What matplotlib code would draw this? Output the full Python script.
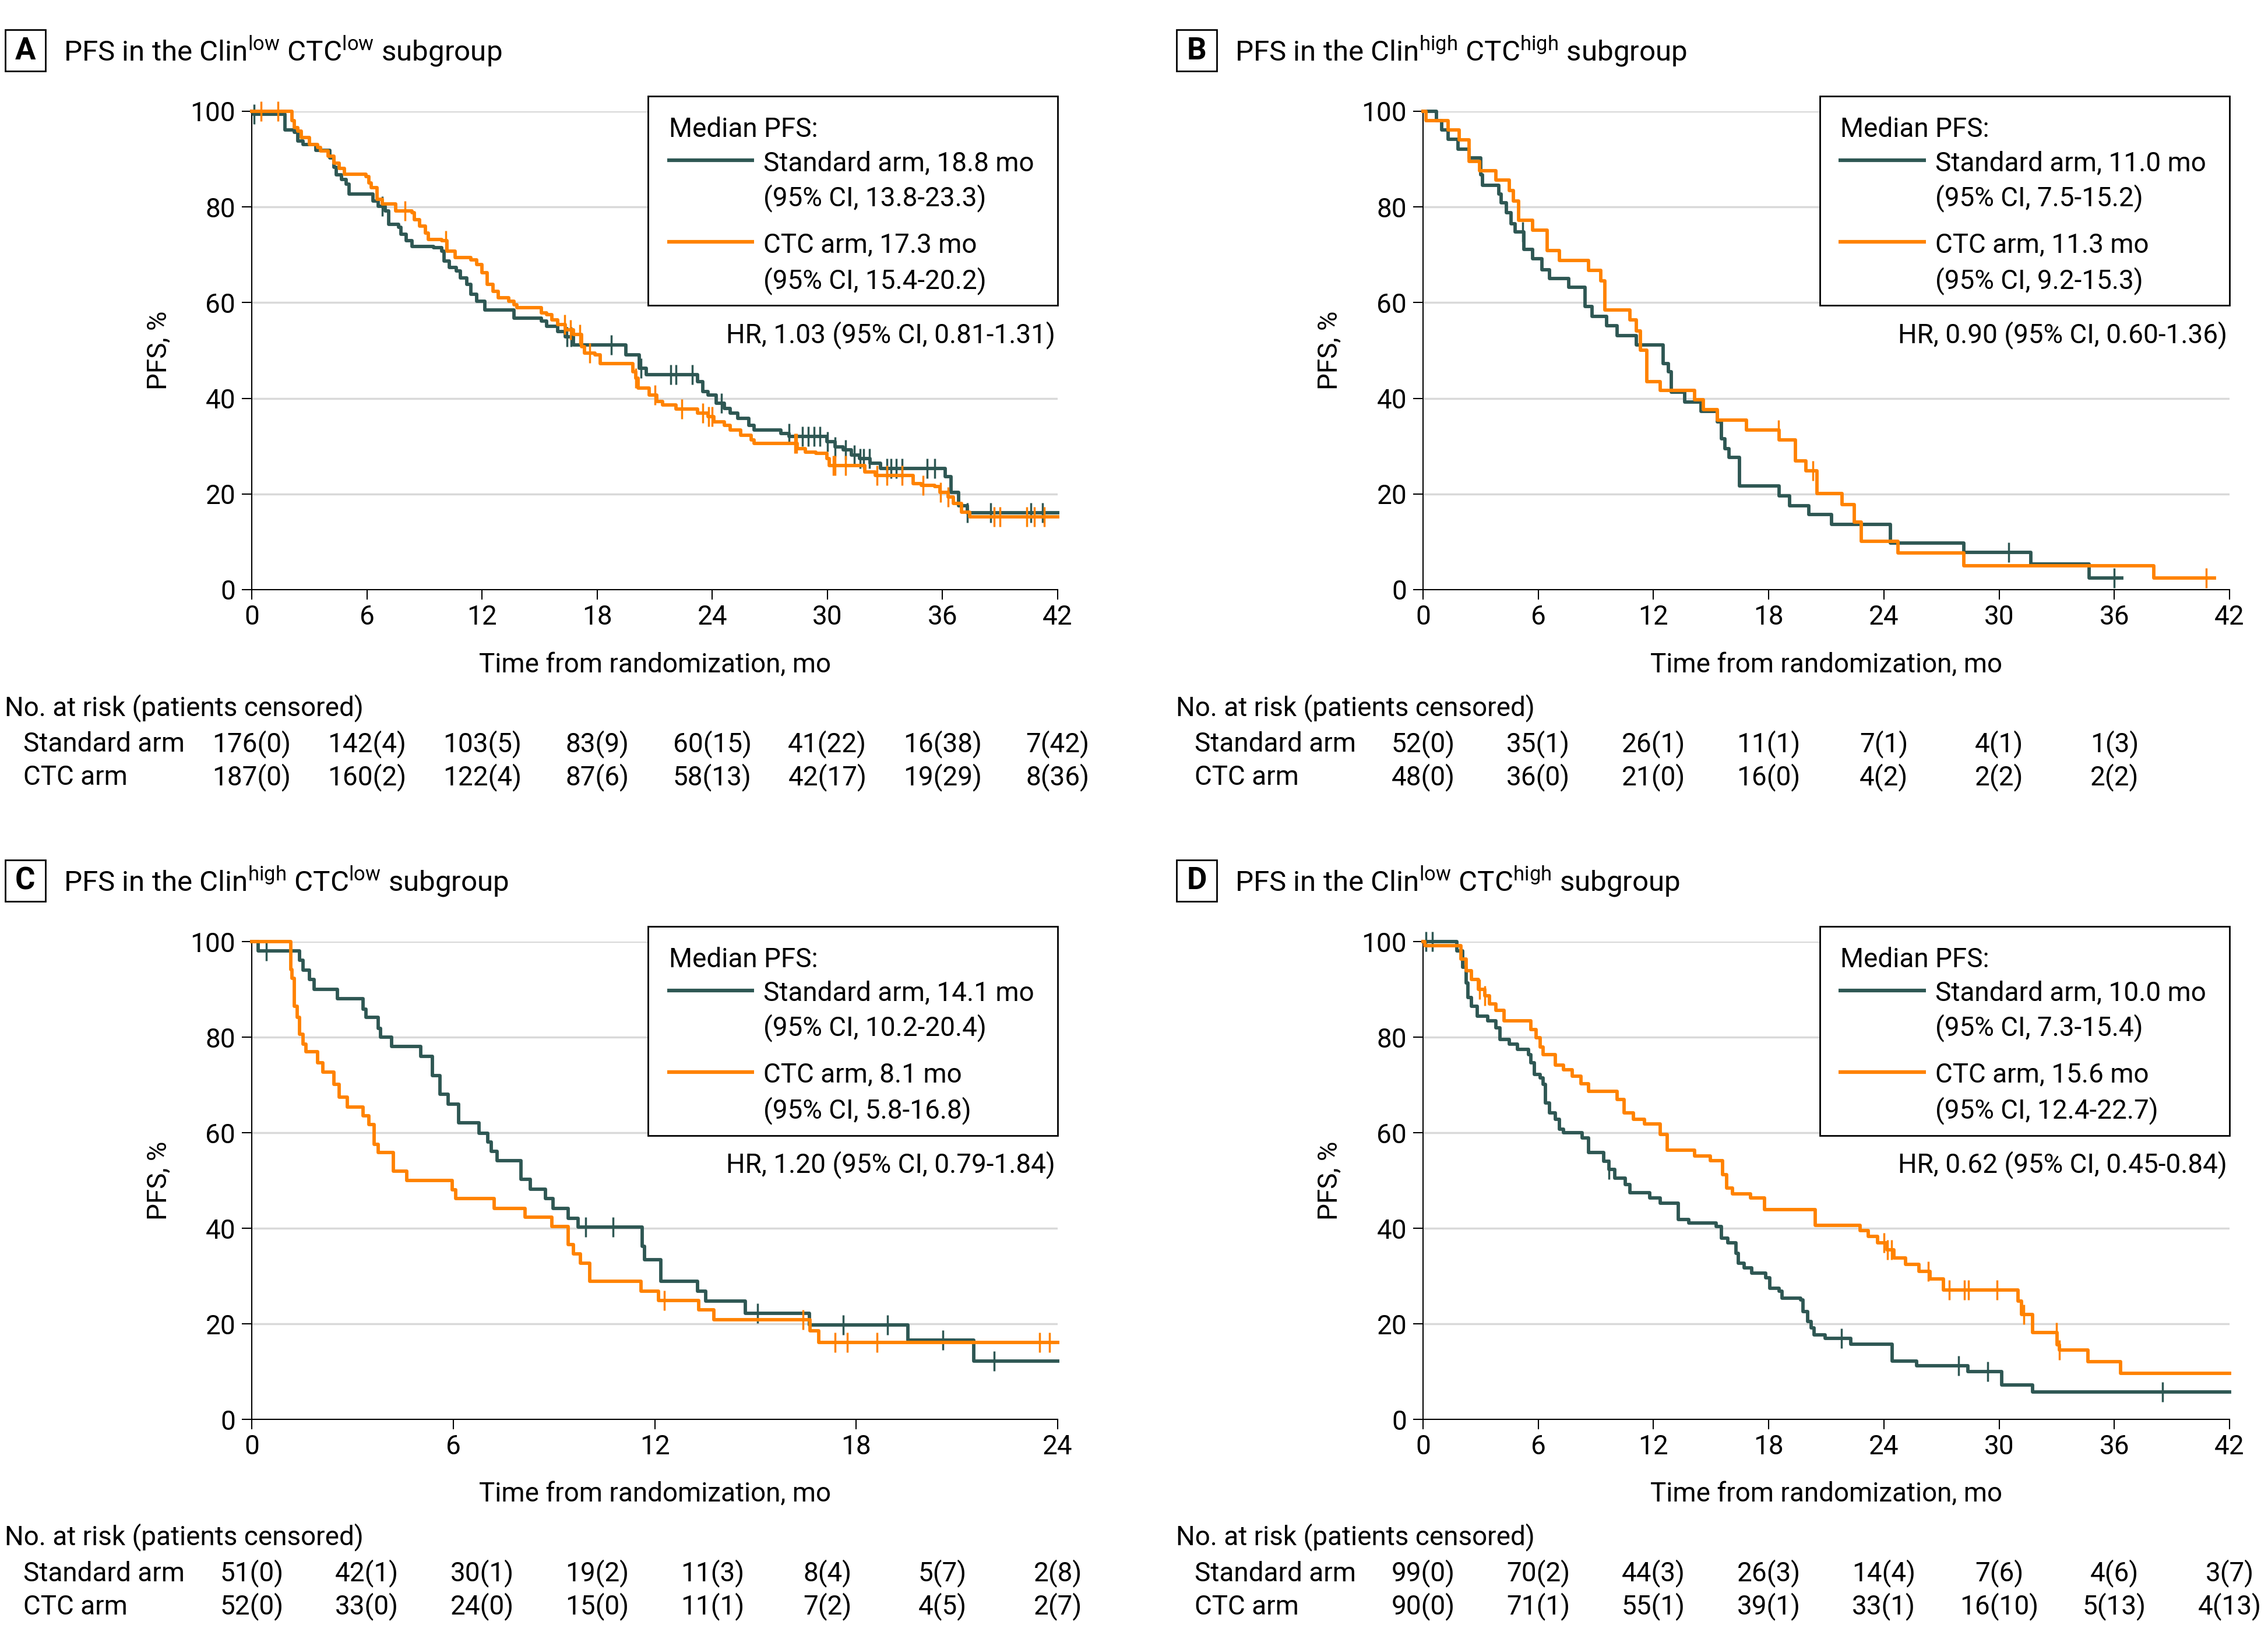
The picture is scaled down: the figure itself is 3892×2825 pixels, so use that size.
import numpy as np
import matplotlib
matplotlib.use('Agg')
import matplotlib.pyplot as plt
from matplotlib.patches import Rectangle
from matplotlib.transforms import blended_transform_factory

plt.rcParams['font.family'] = ['Roboto', 'DejaVu Sans']
plt.rcParams['mathtext.fontset'] = 'custom'
plt.rcParams['mathtext.rm'] = 'Roboto'
plt.rcParams['mathtext.it'] = 'Roboto:italic'
plt.rcParams['mathtext.bf'] = 'Roboto:bold'

DARK = '#2e5753'
ORANGE = '#ff8200'
GRID = '#d9d9d9'
FS = 33

# ---------------- data ----------------
# panel A: Clin low / CTC low
a_std_t = [0, 0.1, 1.74, 2.22, 2.39, 2.67, 3.34, 4.07, 4.27, 4.41, 4.69, 4.92, 5.06, 6.32, 6.60, 6.94, 7.13, 7.64,
           7.78, 8.06, 8.34, 9.47, 9.89, 10.03, 10.31, 10.65, 10.87, 11.21, 11.43, 11.71, 12.14, 13.68, 15.08, 15.37,
           15.93, 16.35, 16.77, 19.5, 20.20, 20.56, 23.23, 23.51, 23.79, 24.21, 24.64, 24.92, 25.34, 25.90, 26.18,
           27.58, 28.01, 29.97, 30.39, 30.81, 31.24, 31.66, 32.22, 32.78, 36.15, 36.43, 36.85, 37.28, 42]
a_std_s = [100, 99.4, 96.1, 95.6, 93.8, 93.1, 91.9, 90.3, 88.3, 86.7, 85.8, 84.8, 82.7, 81.3, 80.2, 79.2, 76.4, 75.8,
           74.3, 72.9, 71.8, 71.5, 70.8, 68.7, 67.3, 66.6, 65.2, 63.8, 61.7, 60.3, 58.5, 56.8, 56.1, 55.0,
           54.0, 52.9, 51.2, 49.1, 46.3, 44.9, 43.5, 41.4, 40.7, 39.0, 37.9, 36.9, 35.8, 34.4, 33.4,
           32.7, 32.0, 30.9, 29.9, 29.2, 28.1, 27.4, 26.4, 25.3, 23.6, 20.4, 17.6, 16.1, 16.1]
a_std_cens = [0.11, 6.80, 16.43, 16.63, 18.74, 20.28, 21.83, 22.11, 22.95, 24.49, 28.0, 28.7, 29.0, 29.3, 29.6,
              30.0, 30.4, 30.95, 31.4, 31.7, 31.9, 32.2, 33.1, 33.3, 33.6, 33.9, 35.2, 35.6, 37.3, 38.5, 40.6, 41.2]
a_ctc_t = [0, 2.11, 2.22, 2.39, 2.58, 3.01, 3.43, 3.57, 3.99, 4.27, 4.55, 4.83, 5.96, 6.10, 6.24, 6.52, 6.80, 7.50,
           8.34, 8.48, 8.76, 9.05, 9.19, 9.89, 10.17, 10.59, 11.43, 11.71, 11.99, 12.28, 12.56, 12.84, 13.40, 13.68,
           13.82, 15.08, 15.37, 15.65, 15.93, 16.35, 16.77, 17.19, 17.33, 17.89, 18.17, 19.86, 20.0, 20.14, 20.70,
           21.12, 21.40, 22.11, 23.23, 23.79, 24.07, 24.64, 24.92, 25.48, 26.04, 26.18, 28.43, 28.85, 29.41, 29.97,
           30.11, 31.94, 32.50, 34.47, 34.89, 35.59, 35.87, 36.29, 36.57, 36.99, 37.42, 42]
a_ctc_s = [100, 98.0, 96.6, 95.9, 94.5, 93.1, 92.4, 91.7, 90.6, 89.2, 88.1, 86.9, 86.4, 85.0, 84.0, 81.6, 80.6, 79.2,
           78.8, 77.4, 76.0, 74.6, 73.2, 72.9, 70.8, 69.4, 69.0, 68.0, 66.2, 63.8, 62.4, 61.0, 60.3, 59.6,
           58.9, 57.8, 57.5, 56.4, 55.4, 54.3, 53.3, 50.8, 49.4, 49.1, 47.3, 45.6, 44.2, 42.1, 40.7,
           39.3, 38.6, 37.8, 36.9, 36.2, 35.1, 34.4, 33.4, 32.3, 31.3, 30.6, 29.5, 28.8, 28.5, 27.4,
           26.0, 24.6, 23.9, 22.2, 21.8, 21.5, 20.4, 19.4, 18.0, 16.2, 15.2, 15.2]
a_ctc_cens = [0.48, 1.38, 8.0, 10.1, 16.3, 16.6, 17.1, 17.6, 20.0, 21.0, 22.4, 23.5, 23.8, 24.0, 28.3, 28.4, 30.3,
              30.4, 30.95, 32.6, 33.1, 33.9, 35.0, 35.9, 36.3, 38.7, 39.0, 40.4, 40.8, 41.3]

# panel B: Clin high / CTC high
b_std_t = [0, 0.70, 0.98, 1.32, 1.83, 2.39, 3.01, 3.09, 3.93, 4.07, 4.35, 4.58, 4.78, 5.25, 5.70, 6.18, 6.60, 7.58,
           8.43, 8.79, 9.55, 10.11, 11.10, 12.50, 12.78, 12.92, 13.62, 14.47, 15.31, 15.53, 15.73, 15.93, 16.49,
           18.54, 19.10, 20.08, 21.26, 24.35, 28.17, 31.66, 34.69, 36.38]
b_std_s = [100, 98.0, 96.1, 94.2, 92.1, 90.2, 86.7, 84.5, 82.7, 80.9, 78.8, 76.5, 74.8, 71.1, 69.2, 66.9, 65.0, 63.2,
           59.2, 57.1, 55.2, 53.1, 51.2, 47.3, 45.6, 41.3, 39.2, 37.3, 35.1, 31.6, 29.5, 27.6, 21.7,
           19.6, 17.6, 15.7, 13.7, 9.8, 7.8, 5.4, 2.4, 2.4]
b_std_cens = [5.2, 30.5, 36.0]
b_ctc_t = [0, 0.14, 1.32, 1.88, 2.39, 2.95, 3.79, 4.49, 4.69, 4.97, 5.70, 6.46, 7.11, 8.62, 9.27, 9.47, 10.76, 11.10,
           11.32, 11.66, 12.36, 14.13, 14.61, 15.31, 16.85, 18.54, 19.38, 19.94, 20.51, 21.83, 22.47, 22.81, 24.72,
           28.17, 38.06, 41.2]
b_ctc_s = [100, 98.0, 96.1, 94.0, 89.5, 87.6, 85.6, 83.4, 81.3, 77.2, 75.1, 70.9, 68.8, 66.7, 64.6, 58.5, 56.4, 54.1,
           50.1, 43.5, 41.7, 39.7, 37.6, 35.5, 33.4, 31.3, 26.9, 24.8, 20.1, 17.8, 14.1, 10.1, 7.7,
           5.0, 2.4, 2.4]
b_ctc_cens = [18.5, 20.3, 40.8]

# panel C: Clin high / CTC low
c_std_t = [0, 0.19, 1.43, 1.53, 1.72, 1.85, 2.55, 3.32, 3.40, 3.77, 3.84, 4.17, 5.04, 5.38, 5.60, 5.84, 6.16, 6.77,
           7.02, 7.14, 7.30, 8.01, 8.30, 8.75, 8.97, 9.42, 9.71, 11.62, 11.70, 12.18, 13.28, 13.52, 14.69, 16.60,
           19.54, 21.50, 24]
c_std_s = [100, 98.0, 96.1, 94.0, 92.1, 90.0, 88.0, 85.8, 84.1, 81.8, 80.0, 78.0, 76.0, 72.0, 68.1, 66.0, 62.1, 59.9,
           58.0, 56.1, 54.2, 50.2, 48.2, 46.2, 44.2, 42.1, 40.2, 36.2, 33.4, 28.9, 26.8, 24.7, 22.2, 19.8,
           16.6, 12.2, 12.2]
c_std_cens = [0.43, 9.94, 10.76, 15.07, 17.61, 18.93, 20.58, 22.11]
c_ctc_t = [0, 1.16, 1.20, 1.27, 1.36, 1.43, 1.53, 1.61, 1.96, 2.12, 2.44, 2.60, 2.84, 3.32, 3.48, 3.64, 3.76, 4.21,
           4.61, 5.97, 6.08, 7.22, 8.14, 8.94, 9.42, 9.58, 9.78, 10.07, 11.59, 12.12, 13.31, 13.76, 16.62, 16.89, 24]
c_ctc_s = [100, 94.2, 92.3, 86.5, 84.2, 80.6, 78.5, 76.9, 74.6, 72.7, 70.1, 67.4, 65.4, 63.5, 61.7, 57.6, 55.9, 51.9,
           50.0, 48.1, 46.2, 44.2, 42.3, 40.4, 36.6, 34.6, 32.7, 28.9, 26.8, 24.9, 22.9, 20.8, 18.5, 16.1, 16.1]
c_ctc_cens = [12.28, 16.41, 17.37, 17.74, 18.62, 23.47, 23.76]

# panel D: Clin low / CTC high
d_std_t = [0, 1.77, 2.05, 2.25, 2.33, 2.53, 2.81, 3.37, 3.79, 4.02, 4.49, 4.92, 5.48, 5.62, 5.81, 6.10, 6.26, 6.38,
           6.60, 6.88, 7.11, 7.30, 8.29, 8.62, 9.41, 9.69, 9.97, 10.53, 10.76, 11.80, 12.36, 13.29, 13.85, 15.25,
           15.53, 15.87, 16.29, 16.43, 16.71, 17.13, 17.84, 18.06, 18.54, 18.68, 19.66, 19.80, 20.03, 20.22, 20.37,
           20.93, 22.28, 24.44, 25.70, 28.37, 30.14, 31.74, 42]
d_std_s = [100, 98.0, 94.6, 91.4, 88.3, 86.5, 84.4, 83.4, 82.0, 79.5, 78.5, 77.4, 76.4, 74.6, 72.2, 71.5, 70.1, 66.2,
           64.2, 62.8, 60.7, 60.0, 58.9, 55.8, 54.0, 52.3, 50.5, 49.1, 47.4, 46.3, 45.3, 41.8, 41.1, 40.4,
           37.9, 36.9, 34.8, 32.7, 31.7, 30.6, 29.6, 27.5, 26.8, 25.4, 25.0, 22.6, 20.5, 19.1, 17.7,
           17.0, 15.7, 12.2, 11.2, 10.0, 7.2, 5.7, 5.7]
d_std_cens = [0.14, 0.48, 9.69, 21.8, 27.9, 29.4, 38.5]
d_ctc_t = [0, 0.1, 1.97, 2.25, 2.53, 2.89, 3.23, 3.46, 3.79, 4.21, 5.62, 5.90, 6.10, 6.26, 6.88, 7.30, 7.78, 8.23,
           8.62, 10.11, 10.48, 10.96, 11.52, 12.36, 12.72, 14.13, 14.97, 15.59, 15.81, 16.10, 17.05, 17.78, 20.42,
           22.75, 23.17, 23.68, 24.16, 24.52, 25.14, 25.84, 26.40, 27.11, 30.98, 31.18, 31.74, 33.01, 33.15, 34.63,
           36.32, 42]
d_ctc_s = [100, 99.1, 96.3, 93.9, 92.1, 90.0, 88.6, 86.9, 85.6, 83.4, 81.6, 79.9, 77.9, 76.4, 74.1, 73.2, 71.8, 70.2,
           68.7, 66.9, 64.2, 62.8, 61.8, 59.6, 56.3, 55.1, 54.2, 51.2, 48.4, 47.2, 46.3, 43.9, 40.6,
           39.5, 38.3, 36.9, 35.5, 33.8, 32.5, 31.0, 29.4, 27.1, 24.7, 21.9, 18.2, 15.6, 14.5, 12.1,
           9.6, 9.6]
d_ctc_cens = [2.95, 3.23, 24.0, 24.2, 24.4, 26.3, 27.4, 28.2, 28.4, 29.9, 31.3, 33.0, 33.15]

# number at risk (patients censored)
a_risk_std = ['176(0)', '142(4)', '103(5)', '83(9)', '60(15)', '41(22)', '16(38)', '7(42)']
a_risk_ctc = ['187(0)', '160(2)', '122(4)', '87(6)', '58(13)', '42(17)', '19(29)', '8(36)']
b_risk_std = ['52(0)', '35(1)', '26(1)', '11(1)', '7(1)', '4(1)', '1(3)']
b_risk_ctc = ['48(0)', '36(0)', '21(0)', '16(0)', '4(2)', '2(2)', '2(2)']
c_risk_std = ['51(0)', '42(1)', '30(1)', '19(2)', '11(3)', '8(4)', '5(7)', '2(8)']
c_risk_ctc = ['52(0)', '33(0)', '24(0)', '15(0)', '11(1)', '7(2)', '4(5)', '2(7)']
d_risk_std = ['99(0)', '70(2)', '44(3)', '26(3)', '14(4)', '7(6)', '4(6)', '3(7)']
d_risk_ctc = ['90(0)', '71(1)', '55(1)', '39(1)', '33(1)', '16(10)', '5(13)', '4(13)']

letters = ['A', 'B', 'C', 'D']
titles = [r'PFS in the Clin$^{\mathrm{low}}$ CTC$^{\mathrm{low}}$ subgroup',
          r'PFS in the Clin$^{\mathrm{high}}$ CTC$^{\mathrm{high}}$ subgroup',
          r'PFS in the Clin$^{\mathrm{high}}$ CTC$^{\mathrm{low}}$ subgroup',
          r'PFS in the Clin$^{\mathrm{low}}$ CTC$^{\mathrm{high}}$ subgroup']
std_median = ['Standard arm, 18.8 mo', 'Standard arm, 11.0 mo', 'Standard arm, 14.1 mo', 'Standard arm, 10.0 mo']
std_ci = ['(95% CI, 13.8-23.3)', '(95% CI, 7.5-15.2)', '(95% CI, 10.2-20.4)', '(95% CI, 7.3-15.4)']
ctc_median = ['CTC arm, 17.3 mo', 'CTC arm, 11.3 mo', 'CTC arm, 8.1 mo', 'CTC arm, 15.6 mo']
ctc_ci = ['(95% CI, 15.4-20.2)', '(95% CI, 9.2-15.3)', '(95% CI, 5.8-16.8)', '(95% CI, 12.4-22.7)']
hr_text = ['HR, 1.03 (95% CI, 0.81-1.31)', 'HR, 0.90 (95% CI, 0.60-1.36)',
           'HR, 1.20 (95% CI, 0.79-1.84)', 'HR, 0.62 (95% CI, 0.45-0.84)']
x_max = [42, 42, 24, 42]
risk_times = [np.arange(0, 43, 6), np.arange(0, 37, 6), np.linspace(0, 24, 8), np.arange(0, 43, 6)]

curves = [(a_std_t, a_std_s, a_std_cens, a_ctc_t, a_ctc_s, a_ctc_cens),
          (b_std_t, b_std_s, b_std_cens, b_ctc_t, b_ctc_s, b_ctc_cens),
          (c_std_t, c_std_s, c_std_cens, c_ctc_t, c_ctc_s, c_ctc_cens),
          (d_std_t, d_std_s, d_std_cens, d_ctc_t, d_ctc_s, d_ctc_cens)]
risks = [(a_risk_std, a_risk_ctc), (b_risk_std, b_risk_ctc), (c_risk_std, c_risk_ctc), (d_risk_std, d_risk_ctc)]

W, H = 3892, 2825
# axes boxes in pixels: left, top(100%), right, bottom(0%)
boxes = [(432, 191, 1815, 1012), (2442, 191, 3826, 1012),
         (432, 1616, 1815, 2436), (2442, 1616, 3826, 2436)]


def surv_at(t, s, x):
    idx = np.searchsorted(np.array(t), np.array(x), side='right') - 1
    return np.array(s)[idx]


fig = plt.figure(figsize=(W / 100, H / 100), dpi=100)

for k in range(4):
    l, t, r, b = boxes[k]
    ax = fig.add_axes([l / W, 1 - b / H, (r - l) / W, (b - t) / H])
    st, ss, sc, ct, cs, cc = curves[k]

    for y in range(20, 101, 20):
        ax.axhline(y, color=GRID, lw=2.5, zorder=0)

    ax.step(st, ss, where='post', color=DARK, lw=4.2, clip_on=False, zorder=3)
    ax.plot(sc, surv_at(st, ss, sc), ls='none', marker='|', ms=24, mew=2.5, color=DARK, clip_on=False, zorder=3)
    ax.step(ct, cs, where='post', color=ORANGE, lw=4.2, clip_on=False, zorder=3)
    ax.plot(cc, surv_at(ct, cs, cc), ls='none', marker='|', ms=24, mew=2.5, color=ORANGE, clip_on=False, zorder=3)

    ax.set_xlim(0, x_max[k])
    ax.set_ylim(0, 100)
    ax.set_xticks(np.arange(0, x_max[k] + 1, 6))
    ax.set_yticks(np.arange(0, 101, 20))
    for sp in ['top', 'right']:
        ax.spines[sp].set_visible(False)
    for sp in ['left', 'bottom']:
        ax.spines[sp].set_linewidth(1.5)
    ax.tick_params(length=12, width=1.5, labelsize=FS, direction='out')
    ax.tick_params(axis='x', pad=6)
    ax.tick_params(axis='y', pad=8)

    ax.text(-0.1157, 0.5, 'PFS, %', rotation=90, ha='center', va='center', fontsize=FS, transform=ax.transAxes)
    ax.text(0.5, -0.173, 'Time from randomization, mo', ha='center', va='baseline', fontsize=FS,
            transform=ax.transAxes)

    # legend box
    ax.add_patch(Rectangle((0.4917, 0.5944), 1 - 0.4917, 1.0317 - 0.5944, transform=ax.transAxes,
                           facecolor='white', edgecolor='black', lw=2, clip_on=False, zorder=4))
    ax.text(0.5177, 0.9464, 'Median PFS:', fontsize=FS, va='baseline', transform=ax.transAxes, zorder=5)
    ax.plot([0.5155, 0.6233], [0.8977, 0.8977], color=DARK, lw=4.5, transform=ax.transAxes,
            clip_on=False, zorder=5, solid_capstyle='butt')
    ax.plot([0.5155, 0.6233], [0.7272, 0.7272], color=ORANGE, lw=4.5, transform=ax.transAxes,
            clip_on=False, zorder=5, solid_capstyle='butt')
    ax.text(0.6349, 0.8758, std_median[k], fontsize=FS, va='baseline', transform=ax.transAxes, zorder=5)
    ax.text(0.6349, 0.8027, std_ci[k], fontsize=FS, va='baseline', transform=ax.transAxes, zorder=5)
    ax.text(0.6349, 0.7052, ctc_median[k], fontsize=FS, va='baseline', transform=ax.transAxes, zorder=5)
    ax.text(0.6349, 0.6297, ctc_ci[k], fontsize=FS, va='baseline', transform=ax.transAxes, zorder=5)
    ax.text(0.997, 0.5164, hr_text[k], fontsize=FS, ha='right', va='baseline', transform=ax.transAxes, zorder=5)

    # number at risk table
    ax.text(-0.3066, -0.263, 'No. at risk (patients censored)', fontsize=FS, va='baseline', transform=ax.transAxes)
    ax.text(-0.2834, -0.3386, 'Standard arm', fontsize=FS, va='baseline', transform=ax.transAxes)
    ax.text(-0.2834, -0.408, 'CTC arm', fontsize=FS, va='baseline', transform=ax.transAxes)
    tr = blended_transform_factory(ax.transData, ax.transAxes)
    rs, rc = risks[k]
    for xx, lab in zip(risk_times[k], rs):
        ax.text(xx, -0.3386, lab, fontsize=FS, ha='center', va='baseline', transform=tr, clip_on=False)
    for xx, lab in zip(risk_times[k], rc):
        ax.text(xx, -0.408, lab, fontsize=FS, ha='center', va='baseline', transform=tr, clip_on=False)

    # panel letter and title
    bx, by = l - 423, t - 140
    fig.add_artist(Rectangle((bx / W, 1 - (by + 71) / H), 69 / W, 71 / H, transform=fig.transFigure,
                             facecolor='white', edgecolor='black', lw=2))
    fig.text((bx + 34.5) / W, 1 - (by + 36) / H, letters[k], fontsize=38, fontweight='bold',
             ha='center', va='center')
    fig.text((l - 323) / W, 1 - (t - 86) / H, titles[k], fontsize=35.5, ha='left', va='baseline')

fig.savefig('out.png', dpi=100, facecolor='white')
